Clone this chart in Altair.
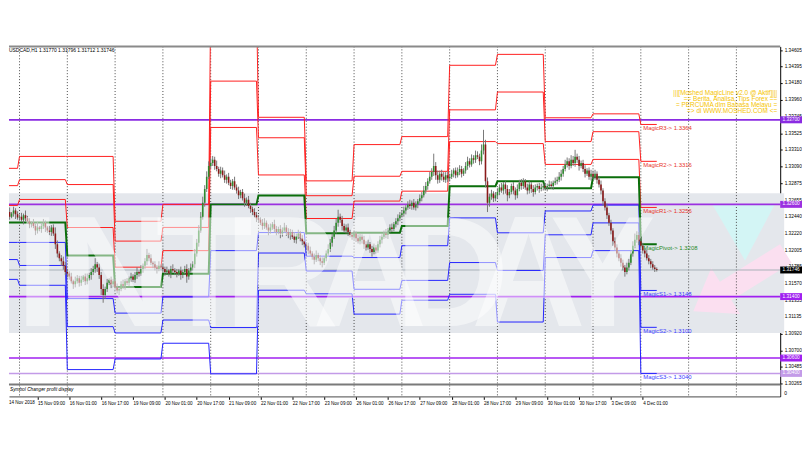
import json
import altair as alt
import pandas as pd

W, H = 778, 353
X_DOM = [4.2, 386.5]
Y_DOM = [1.30102, 1.346555]

x_labels = ["14 Nov 2018", "15 Nov 09:00", "16 Nov 01:00", "16 Nov 17:00", "19 Nov 09:00",
            "20 Nov 01:00", "20 Nov 17:00", "21 Nov 09:00", "22 Nov 01:00", "22 Nov 17:00",
            "23 Nov 09:00", "26 Nov 01:00", "26 Nov 17:00", "27 Nov 09:00", "28 Nov 01:00",
            "28 Nov 17:00", "29 Nov 09:00", "30 Nov 01:00", "30 Nov 17:00", "3 Dec 09:00",
            "4 Dec 01:00"]
y_ticks = [1.34605, 1.34395, 1.34180, 1.33960, 1.33745, 1.33525, 1.33310, 1.33090, 1.32875,
           1.32655, 1.32440, 1.32220, 1.32005, 1.31785, 1.31570, 1.31355, 1.31135, 1.30920,
           1.30700, 1.30485, 1.30265]

day_start = [0, 7, 31, 55, 79, 103, 127, 151, 175, 199, 223, 247, 271, 295, 319]
day_end = [6, 30, 54, 78, 102, 126, 150, 174, 198, 222, 246, 270, 294, 318, 327]
future_days = [343, 367]

# hourly closes in pips above 1.3000, one list per trading day
close_days = [
    [246, 250, 244, 248, 252, 247, 243],
    [244, 240, 246, 242, 238, 234, 236, 232, 226, 230, 228, 232, 236, 230, 226, 224, 230, 222, 208, 196, 190, 186, 180, 172],
    [170, 166, 160, 156, 160, 164, 158, 162, 166, 160, 164, 168, 172, 176, 182, 178, 168, 150, 142, 150, 158, 162, 156, 160],
    [152, 148, 150, 156, 154, 160, 158, 164, 166, 162, 168, 172, 170, 176, 180, 186, 194, 190, 184, 182, 178, 176, 180, 178],
    [176, 172, 174, 170, 176, 174, 172, 170, 174, 168, 172, 176, 166, 174, 178, 182, 196, 210, 226, 244, 262, 280, 296, 310],
    [314, 318, 310, 306, 300, 304, 298, 292, 296, 288, 284, 290, 282, 278, 272, 276, 268, 262, 266, 258, 254, 250, 246, 242],
    [240, 236, 232, 236, 230, 226, 230, 234, 228, 224, 228, 222, 226, 230, 224, 220, 224, 218, 214, 218, 222, 216, 212, 208],
    [206, 200, 196, 192, 188, 194, 190, 186, 184, 190, 196, 202, 210, 218, 226, 236, 244, 240, 232, 226, 230, 224, 220, 218],
    [222, 216, 212, 218, 214, 208, 204, 208, 202, 198, 204, 200, 208, 214, 218, 222, 220, 226, 230, 228, 234, 238, 242, 246],
    [248, 252, 256, 260, 258, 262, 256, 260, 264, 268, 272, 278, 284, 290, 296, 302, 310, 298, 292, 300, 296, 292, 298, 294],
    [296, 300, 304, 298, 302, 306, 300, 304, 310, 316, 312, 320, 318, 324, 322, 316, 330, 338, 290, 262, 270, 274, 268, 272],
    [276, 282, 278, 286, 280, 272, 276, 284, 278, 272, 280, 288, 284, 290, 282, 278, 286, 280, 276, 282, 284, 280, 282, 284],
    [282, 284, 286, 284, 288, 290, 292, 296, 300, 306, 312, 316, 310, 318, 314, 322, 318, 310, 314, 306, 300, 304, 296, 300],
    [296, 300, 292, 286, 278, 264, 256, 246, 236, 226, 212, 204, 196, 190, 184, 178, 172, 178, 184, 196, 206, 214, 220, 212],
    [206, 200, 196, 190, 186, 182, 178, 176, 174.6],
]
# upper / lower shadows in pips
up_days = [
    [4, 3, 6, 2, 5, 3, 4],
    [3, 5, 2, 6, 3, 4, 2, 5, 3, 7, 2, 4, 5, 3, 2, 6, 3, 4, 8, 5, 3, 4, 6, 5],
    [4, 3, 5, 2, 6, 4, 3, 5, 2, 4, 6, 3, 5, 4, 8, 3, 5, 4, 6, 3, 5, 2, 4, 3],
    [3, 5, 2, 4, 6, 3, 4, 2, 5, 3, 4, 6, 2, 5, 3, 4, 8, 3, 5, 2, 4, 3, 6, 2],
    [4, 3, 5, 2, 4, 6, 3, 4, 2, 5, 3, 4, 6, 3, 5, 4, 6, 5, 7, 6, 8, 5, 7, 6],
    [6, 5, 4, 7, 3, 5, 4, 6, 3, 5, 4, 3, 6, 4, 5, 3, 4, 6, 3, 5, 4, 3, 5, 4],
    [4, 3, 5, 6, 3, 4, 5, 3, 6, 4, 3, 5, 4, 6, 3, 5, 4, 3, 6, 4, 5, 3, 4, 3],
    [3, 4, 5, 3, 4, 6, 3, 4, 5, 3, 4, 6, 5, 4, 6, 5, 9, 4, 5, 3, 4, 5, 3, 4],
    [4, 3, 5, 4, 3, 5, 4, 6, 3, 4, 5, 3, 4, 5, 3, 4, 6, 3, 4, 5, 3, 4, 5, 4],
    [4, 5, 3, 4, 6, 3, 5, 4, 3, 5, 4, 6, 5, 4, 6, 5, 16, 5, 6, 4, 5, 6, 4, 5],
    [4, 5, 3, 4, 6, 5, 4, 3, 5, 6, 4, 5, 4, 6, 5, 4, 8, 19, 6, 5, 4, 5, 3, 4],
    [5, 4, 6, 3, 4, 5, 4, 3, 5, 4, 6, 4, 5, 4, 3, 5, 4, 3, 5, 4, 3, 4, 5, 3],
    [4, 3, 5, 4, 3, 5, 4, 6, 5, 4, 6, 5, 4, 6, 5, 9, 4, 5, 3, 4, 5, 3, 4, 5],
    [4, 5, 3, 4, 5, 3, 4, 5, 3, 4, 3, 5, 4, 3, 5, 4, 3, 6, 5, 4, 6, 8, 5, 4],
    [6, 4, 3, 5, 4, 3, 4, 3, 2],
]
dn_days = [
    [3, 5, 4, 2, 4, 6, 3],
    [4, 3, 6, 4, 3, 5, 4, 3, 6, 4, 3, 5, 4, 6, 3, 4, 5, 3, 6, 5, 4, 6, 5, 4],
    [5, 4, 3, 6, 4, 3, 5, 4, 3, 5, 4, 3, 6, 4, 5, 6, 5, 8, 10, 5, 4, 3, 5, 4],
    [5, 4, 6, 3, 4, 5, 3, 4, 5, 3, 4, 5, 4, 3, 5, 4, 5, 4, 3, 5, 4, 6, 3, 4],
    [4, 5, 3, 4, 6, 3, 4, 5, 3, 6, 4, 3, 8, 4, 3, 4, 5, 4, 5, 3, 4, 5, 4, 3],
    [3, 4, 5, 3, 4, 6, 3, 4, 5, 3, 4, 5, 3, 4, 5, 4, 3, 5, 4, 3, 5, 4, 3, 5],
    [4, 3, 5, 4, 3, 6, 4, 3, 5, 4, 3, 6, 4, 3, 5, 4, 6, 3, 4, 5, 3, 4, 5, 4],
    [4, 5, 3, 4, 6, 3, 4, 5, 6, 3, 4, 3, 4, 5, 3, 4, 5, 4, 6, 3, 4, 5, 3, 4],
    [4, 5, 3, 4, 5, 6, 4, 3, 5, 6, 3, 4, 3, 4, 5, 3, 4, 5, 3, 4, 3, 4, 5, 4],
    [3, 4, 5, 3, 4, 5, 3, 4, 5, 3, 4, 3, 4, 5, 3, 4, 5, 6, 5, 4, 5, 3, 4, 5],
    [4, 3, 5, 4, 3, 4, 5, 3, 4, 5, 4, 3, 5, 4, 3, 5, 4, 5, 8, 12, 5, 4, 5, 4],
    [5, 4, 3, 5, 6, 8, 4, 3, 5, 6, 4, 3, 5, 4, 3, 5, 4, 5, 6, 3, 4, 5, 3, 4],
    [4, 5, 3, 4, 5, 3, 4, 3, 5, 4, 3, 4, 5, 3, 4, 5, 4, 6, 3, 4, 5, 3, 4, 5],
    [3, 4, 5, 4, 5, 6, 4, 5, 4, 5, 6, 4, 5, 4, 5, 4, 6, 3, 4, 3, 4, 3, 4, 5],
    [3, 4, 5, 3, 4, 5, 3, 4, 2],
]

# daily MagicLine levels (price), one value per day
R3 = [1.33069, 1.33224, 1.33224, 1.32380, 1.32600, 1.35205, 1.33733, 1.32906, 1.33378, 1.33482,
      1.34410, 1.34552, 1.33727, 1.33778, 1.33640]
R2 = [1.32844, 1.32922, 1.32858, 1.32122, 1.32300, 1.34204, 1.33467, 1.32713, 1.32966, 1.33030,
      1.33830, 1.34062, 1.33417, 1.33546, 1.33160]
R1 = [1.32586, 1.32664, 1.32299, 1.31783, 1.31998, 1.33601, 1.32983, 1.32416, 1.32643, 1.32772,
      1.33417, 1.33391, 1.33120, 1.33185, 1.32560]
PV = [1.32363, 1.32363, 1.31934, 1.31525, 1.31697, 1.32600, 1.32717, 1.32223, 1.32230, 1.32320,
      1.32836, 1.32901, 1.32811, 1.32953, 1.32080]
S1 = [1.32105, 1.32105, 1.31374, 1.31185, 1.31396, 1.31998, 1.32233, 1.31926, 1.31908, 1.32062,
      1.32424, 1.32230, 1.32514, 1.32591, 1.31480]
S2 = [1.31882, 1.31805, 1.31009, 1.30927, 1.31095, 1.30997, 1.31967, 1.31733, 1.31495, 1.31611,
      1.31843, 1.31740, 1.32204, 1.32359, 1.31000]
S3 = [1.31624, 1.31547, 1.30450, 1.30588, 1.30793, 1.30395, 1.31483, 1.31436, 1.31172, 1.31353,
      1.31430, 1.31069, 1.31908, 1.31998, 1.30400]

hlines = [1.33700, 1.32600, 1.31400, 1.30600, 1.30400]
hline_colors = ["#8a2be2", "#9b30e0", "#a020f0", "#a020f0", "#c39be8"]
bid = 1.31746
info_text = "USDCAD,H1  1.31770 1.31796 1.31712 1.31746"
promo = ["|||[Moshed MagicLine v2.0 @ Aktif]|||", "== Berita, Analisa, Tips Forex ==",
         "= PERCUMA dlm Bahasa Melayu =", "=> di WWW.MOSHED.COM <="]
wm_letters = list("INTRADAY")
wm_x = [29, 107, 197, 275, 364, 447, 524, 599]


def px(p):
    return round(1.3 + p / 10000.0, 5)


# ---------- tables ----------
rows = []
prev = close_days[0][0]
for d in range(len(close_days)):
    for i, (c, u, l) in enumerate(zip(close_days[d], up_days[d], dn_days[d])):
        o = prev
        rows.append({"bar": day_start[d] + i, "open": px(o), "close": px(c),
                     "high": px(max(o, c) + u), "low": px(min(o, c) - l),
                     "col": "#2e8b2e" if c >= o else "#8b1a1a"})
        prev = c
candles = pd.DataFrame(rows)

LEVELS = [("R3", R3), ("R2", R2), ("R1", R1), ("P", PV), ("S1", S1), ("S2", S2), ("S3", S3)]
lv_rows = []
for name, vals in LEVELS:
    k = 0
    for d, v in enumerate(vals):
        lv_rows.append({"level": name, "bar": day_start[d], "price": v, "k": k}); k += 1
        lv_rows.append({"level": name, "bar": day_end[d], "price": v, "k": k}); k += 1
levels = pd.DataFrame(lv_rows)
grp = {"R3": "R", "R2": "R", "R1": "R", "P": "P", "S1": "S", "S2": "S", "S3": "S"}
levels["grp"] = levels["level"].map(grp)
txt_col = {"R": "#e8342c", "P": "#2a8a2a", "S": "#3b3bff"}

last_lv = pd.DataFrame([
    {"bar": day_start[-1] + 1.2, "price": v[-1], "col": txt_col[grp[n]],
     "label": f"Magic{'Pivot' if n == 'P' else n}-> {v[-1]:.4f}"}
    for n, v in LEVELS
])

grid = pd.DataFrame({"bar": day_start[1:] + future_days})
hl = pd.DataFrame({"price": hlines, "col": hline_colors, "label": [f"{v:.5f}" for v in hlines]})

FONT = "Liberation Sans"
X_AXIS = alt.Axis(values=[16 * i for i in range(1, len(x_labels))],
                  labelExpr=json.dumps(x_labels) + "[round(datum.value/16)]",
                  labelAlign="left", labelPadding=1, labelFontSize=4.6, labelFont=FONT,
                  labelColor="#000", tickSize=3, tickColor="#000", domainColor="#6e6e6e",
                  domainWidth=1.5, grid=False, title=None, labelOverlap=False,
                  labelFlush=False, labelBound=False)
XS = alt.Scale(domain=X_DOM, nice=False, zero=False)
YS = alt.Scale(domain=Y_DOM, nice=False, zero=False)
xs = alt.X("bar:Q", scale=XS, axis=X_AXIS)
ys = alt.Y("price:Q", scale=YS, axis=None)

y_axis = alt.Chart(pd.DataFrame({"price": y_ticks})).mark_rule(opacity=0).encode(
    y=alt.Y("price:Q", scale=YS,
            axis=alt.Axis(orient="right", values=y_ticks, format=".5f", labelFontSize=4.8,
                          labelFont=FONT, labelColor="#000", tickSize=2, tickColor="#000",
                          labelPadding=2, domainColor="#000", domainWidth=1, grid=False,
                          title=None, labelOverlap=False, labelFlush=False, labelBound=False,
                          zindex=0)),
)

one = pd.DataFrame({"a": [0]})
band = alt.Chart(one).mark_rect(color="#e4e7ec").encode(
    x=alt.value(0), x2=alt.value(782), y=alt.value(148), y2=alt.value(289))

# logo shapes of the watermark
cyan_tri = alt.Chart(one).mark_point(
    shape="M-1,-0.85 L1,-0.85 L0.05,0.95 Z", filled=True, color="#d3f5f5", opacity=1, size=4000,
    strokeWidth=0).encode(x=alt.value(741), y=alt.value(186))
pink_arrow = alt.Chart(one).mark_point(
    shape="M1,-0.2 L-0.3,-0.2 L-0.3,-0.5 L-1,0 L-0.3,0.5 L-0.3,0.2 L1,0.2 Z", filled=True,
    color="#fbdff0", opacity=1, size=12100, angle=328, strokeWidth=0).encode(
    x=alt.value(737), y=alt.value(238))

grid_l = alt.Chart(grid).mark_rule(color="#4a4a4a", strokeDash=[1, 2], strokeWidth=1).encode(x=xs)
grid_sub = alt.Chart(grid).mark_rule(color="#4a4a4a", strokeDash=[1, 2], strokeWidth=1).encode(
    x=xs, y=alt.value(H - 11), y2=alt.value(H))

bid_l = alt.Chart(pd.DataFrame({"price": [bid]})).mark_rule(color="#a7b0b8", strokeWidth=1).encode(y=ys)

hl_l = alt.Chart(hl).mark_rule(strokeWidth=1.6).encode(y=ys, color=alt.Color("col:N", scale=None))

red_l = alt.Chart(levels[levels.grp == "R"]).mark_line(color="#ff1e1e", strokeWidth=1, clip=True).encode(
    x=xs, y=ys, detail="level:N", order="k:Q")
blue_l = alt.Chart(levels[levels.grp == "S"]).mark_line(color="#2323ff", strokeWidth=1, clip=True).encode(
    x=xs, y=ys, detail="level:N", order="k:Q")
piv_l = alt.Chart(levels[levels.grp == "P"]).mark_line(color="#0b6e0b", strokeWidth=2, clip=True).encode(
    x=xs, y=ys, detail="level:N", order="k:Q")

wick = alt.Chart(candles).mark_rule(color="#777777", strokeWidth=1, clip=True).encode(
    x=xs, y=alt.Y("low:Q", scale=YS, axis=None), y2="high:Q")
body = alt.Chart(candles).mark_bar(width=1.6, clip=True).encode(
    x=xs, y=alt.Y("open:Q", scale=YS, axis=None), y2="close:Q",
    color=alt.Color("col:N", scale=None))

wm_layers = [
    alt.Chart(pd.DataFrame({"t": [ch]})).mark_text(
        font=FONT, fontWeight="bold", fontSize=160, align="center", baseline="alphabetic",
        color="white", opacity=0.5).encode(x=alt.value(cx), y=alt.value(282), text="t:N")
    for ch, cx in zip(wm_letters, wm_x)
]

sub_rect = alt.Chart(one).mark_rect(color="white").encode(
    x=alt.value(0), x2=alt.value(W), y=alt.value(H - 12), y2=alt.value(H))
sub_sep = alt.Chart(one).mark_rule(color="#7a7a7a", strokeWidth=2).encode(
    x=alt.value(0), x2=alt.value(W), y=alt.value(H - 12))
top_b = alt.Chart(one).mark_rule(color="#8a8a8a", strokeWidth=2).encode(
    x=alt.value(0), x2=alt.value(W), y=alt.value(0))
sub_txt = alt.Chart(pd.DataFrame({"t": ["Symbol Changer profit display"]})).mark_text(
    fontSize=4.8, font=FONT, align="left", baseline="middle", color="#000", fontStyle="italic").encode(
    x=alt.value(1), y=alt.value(H - 6), text="t:N")
sub_zero = alt.Chart(pd.DataFrame({"t": ["0"]})).mark_text(
    fontSize=5, font=FONT, align="left", baseline="middle", color="#000").encode(
    x=alt.value(W + 4), y=alt.value(H - 3), text="t:N")

hl_box = alt.Chart(hl).transform_calculate(lo="datum.price - 0.00045", hi="datum.price + 0.00045").mark_rect().encode(
    x=alt.value(W), x2=alt.value(W + 22),
    y=alt.Y("lo:Q", scale=YS, axis=None), y2="hi:Q",
    color=alt.Color("col:N", scale=None))
hl_txt = alt.Chart(hl).mark_text(fontSize=4.8, font=FONT, color="white", align="center", baseline="middle").encode(
    x=alt.value(W + 11), y=ys, text="label:N")
bid_df = pd.DataFrame({"price": [bid], "label": [f"{bid:.5f}"]})
bid_box = alt.Chart(bid_df).transform_calculate(
    lo="datum.price - 0.00045", hi="datum.price + 0.00045").mark_rect(color="#000").encode(
    x=alt.value(W), x2=alt.value(W + 22),
    y=alt.Y("lo:Q", scale=YS, axis=None), y2="hi:Q")
bid_txt = alt.Chart(bid_df).mark_text(
    fontSize=4.8, font=FONT, color="white", align="center", baseline="middle").encode(
    x=alt.value(W + 11), y=ys, text="label:N")

lvl_txt = alt.Chart(last_lv).mark_text(fontSize=6, font=FONT, align="left", baseline="top", dy=1).encode(
    x=xs, y=ys, text="label:N", color=alt.Color("col:N", scale=None))

info = alt.Chart(pd.DataFrame({"t": [info_text]})).mark_text(
    fontSize=5, font=FONT, align="left", baseline="middle", color="#000").encode(
    x=alt.value(0), y=alt.value(4), text="t:N")
promo_t = alt.Chart(pd.DataFrame({"t": promo, "i": list(range(len(promo)))})).mark_text(
    fontSize=6.5, font=FONT, align="right", baseline="middle", color="#f5c400").encode(
    x=alt.value(775), y=alt.Y("i:Q", scale=alt.Scale(domain=[0, len(promo) - 1], range=[47, 65]), axis=None),
    text="t:N")
first_lbl = alt.Chart(pd.DataFrame({"t": [x_labels[0]]})).mark_text(
    fontSize=4.6, font=FONT, align="left", baseline="top", color="#000").encode(
    x=alt.value(0), y=alt.value(H + 4), text="t:N")

chart = alt.layer(
    band, cyan_tri, pink_arrow, grid_l, bid_l, hl_l, red_l, blue_l, piv_l, wick, body, *wm_layers,
    sub_rect, grid_sub, sub_sep, top_b, sub_txt, y_axis, sub_zero,
    hl_box, hl_txt, bid_box, bid_txt, lvl_txt, info, promo_t, first_lbl,
).resolve_scale(y="independent").properties(
    width=W, height=H, padding={"top": 36, "left": 0, "right": 0, "bottom": 0},
    background="white",
).configure_view(stroke=None)

chart.save("out.html", embed_options={"renderer": "svg", "actions": False})
